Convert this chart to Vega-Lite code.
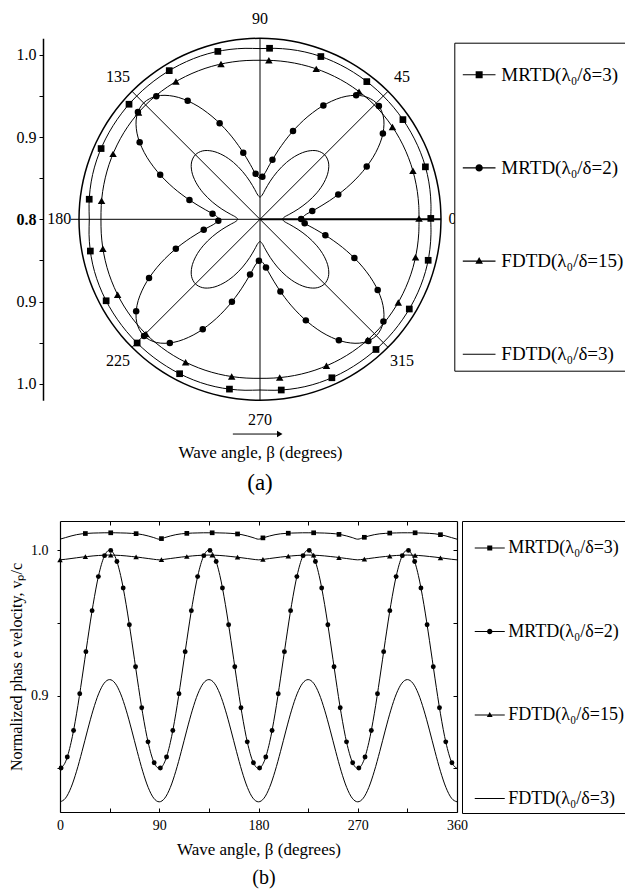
{
  "$schema": "https://vega.github.io/schema/vega-lite/v6.json",
  "width": 625,
  "height": 893,
  "autosize": {"type": "none"},
  "padding": 0,
  "background": "white",
  "config": {
    "view": {"stroke": null},
    "font": "Liberation Serif",
    "axis": {"grid": false, "domainColor": "black", "tickColor": "black", "labelColor": "black", "titleColor": "black", "labelFont": "Liberation Serif", "titleFont": "Liberation Serif", "titleFontWeight": "normal", "labelFlush": false, "labelOverlap": false},
    "legend": {"labelFont": "Liberation Serif", "titleFont": "Liberation Serif"},
    "text": {"font": "Liberation Serif", "color": "black"}
  },
  "datasets": {
    "ln": [
      {"a":0,"c":0.85,"f3":0.827,"sq":1.0075,"tr":0.9933},
      {"a":5,"c":0.8545,"f3":0.8295,"sq":1.0086,"tr":0.9937},
      {"a":10,"c":0.8676,"f3":0.8368,"sq":1.0097,"tr":0.9942},
      {"a":15,"c":0.8875,"f3":0.848,"sq":1.0106,"tr":0.9947},
      {"a":20,"c":0.912,"f3":0.8617,"sq":1.0112,"tr":0.9952},
      {"a":25,"c":0.938,"f3":0.8763,"sq":1.0115,"tr":0.9956},
      {"a":30,"c":0.9625,"f3":0.89,"sq":1.0117,"tr":0.996},
      {"a":35,"c":0.9825,"f3":0.9012,"sq":1.0118,"tr":0.9963},
      {"a":40,"c":0.9955,"f3":0.9085,"sq":1.0119,"tr":0.9965},
      {"a":45,"c":1.0,"f3":0.911,"sq":1.0119,"tr":0.9966},
      {"a":50,"c":0.9955,"f3":0.9085,"sq":1.0119,"tr":0.9965},
      {"a":55,"c":0.9825,"f3":0.9012,"sq":1.0118,"tr":0.9963},
      {"a":60,"c":0.9625,"f3":0.89,"sq":1.0117,"tr":0.996},
      {"a":65,"c":0.938,"f3":0.8763,"sq":1.0115,"tr":0.9956},
      {"a":70,"c":0.912,"f3":0.8617,"sq":1.0112,"tr":0.9952},
      {"a":75,"c":0.8875,"f3":0.848,"sq":1.0106,"tr":0.9947},
      {"a":80,"c":0.8676,"f3":0.8368,"sq":1.0097,"tr":0.9942},
      {"a":85,"c":0.8545,"f3":0.8295,"sq":1.0086,"tr":0.9937},
      {"a":90,"c":0.85,"f3":0.827,"sq":1.0075,"tr":0.9933},
      {"a":95,"c":0.8545,"f3":0.8295,"sq":1.0086,"tr":0.9937},
      {"a":100,"c":0.8676,"f3":0.8368,"sq":1.0097,"tr":0.9942},
      {"a":105,"c":0.8875,"f3":0.848,"sq":1.0106,"tr":0.9947},
      {"a":110,"c":0.912,"f3":0.8617,"sq":1.0112,"tr":0.9952},
      {"a":115,"c":0.938,"f3":0.8763,"sq":1.0115,"tr":0.9956},
      {"a":120,"c":0.9625,"f3":0.89,"sq":1.0117,"tr":0.996},
      {"a":125,"c":0.9825,"f3":0.9012,"sq":1.0118,"tr":0.9963},
      {"a":130,"c":0.9955,"f3":0.9085,"sq":1.0119,"tr":0.9965},
      {"a":135,"c":1.0,"f3":0.911,"sq":1.0119,"tr":0.9966},
      {"a":140,"c":0.9955,"f3":0.9085,"sq":1.0119,"tr":0.9965},
      {"a":145,"c":0.9825,"f3":0.9012,"sq":1.0118,"tr":0.9963},
      {"a":150,"c":0.9625,"f3":0.89,"sq":1.0117,"tr":0.996},
      {"a":155,"c":0.938,"f3":0.8763,"sq":1.0115,"tr":0.9956},
      {"a":160,"c":0.912,"f3":0.8617,"sq":1.0112,"tr":0.9952},
      {"a":165,"c":0.8875,"f3":0.848,"sq":1.0106,"tr":0.9947},
      {"a":170,"c":0.8676,"f3":0.8368,"sq":1.0097,"tr":0.9942},
      {"a":175,"c":0.8545,"f3":0.8295,"sq":1.0086,"tr":0.9937},
      {"a":180,"c":0.85,"f3":0.827,"sq":1.0075,"tr":0.9933},
      {"a":185,"c":0.8545,"f3":0.8295,"sq":1.0086,"tr":0.9937},
      {"a":190,"c":0.8676,"f3":0.8368,"sq":1.0097,"tr":0.9942},
      {"a":195,"c":0.8875,"f3":0.848,"sq":1.0106,"tr":0.9947},
      {"a":200,"c":0.912,"f3":0.8617,"sq":1.0112,"tr":0.9952},
      {"a":205,"c":0.938,"f3":0.8763,"sq":1.0115,"tr":0.9956},
      {"a":210,"c":0.9625,"f3":0.89,"sq":1.0117,"tr":0.996},
      {"a":215,"c":0.9825,"f3":0.9012,"sq":1.0118,"tr":0.9963},
      {"a":220,"c":0.9955,"f3":0.9085,"sq":1.0119,"tr":0.9965},
      {"a":225,"c":1.0,"f3":0.911,"sq":1.0119,"tr":0.9966},
      {"a":230,"c":0.9955,"f3":0.9085,"sq":1.0119,"tr":0.9965},
      {"a":235,"c":0.9825,"f3":0.9012,"sq":1.0118,"tr":0.9963},
      {"a":240,"c":0.9625,"f3":0.89,"sq":1.0117,"tr":0.996},
      {"a":245,"c":0.938,"f3":0.8763,"sq":1.0115,"tr":0.9956},
      {"a":250,"c":0.912,"f3":0.8617,"sq":1.0112,"tr":0.9952},
      {"a":255,"c":0.8875,"f3":0.848,"sq":1.0106,"tr":0.9947},
      {"a":260,"c":0.8676,"f3":0.8368,"sq":1.0097,"tr":0.9942},
      {"a":265,"c":0.8545,"f3":0.8295,"sq":1.0086,"tr":0.9937},
      {"a":270,"c":0.85,"f3":0.827,"sq":1.0075,"tr":0.9933},
      {"a":275,"c":0.8545,"f3":0.8295,"sq":1.0086,"tr":0.9937},
      {"a":280,"c":0.8676,"f3":0.8368,"sq":1.0097,"tr":0.9942},
      {"a":285,"c":0.8875,"f3":0.848,"sq":1.0106,"tr":0.9947},
      {"a":290,"c":0.912,"f3":0.8617,"sq":1.0112,"tr":0.9952},
      {"a":295,"c":0.938,"f3":0.8763,"sq":1.0115,"tr":0.9956},
      {"a":300,"c":0.9625,"f3":0.89,"sq":1.0117,"tr":0.996},
      {"a":305,"c":0.9825,"f3":0.9012,"sq":1.0118,"tr":0.9963},
      {"a":310,"c":0.9955,"f3":0.9085,"sq":1.0119,"tr":0.9965},
      {"a":315,"c":1.0,"f3":0.911,"sq":1.0119,"tr":0.9966},
      {"a":320,"c":0.9955,"f3":0.9085,"sq":1.0119,"tr":0.9965},
      {"a":325,"c":0.9825,"f3":0.9012,"sq":1.0118,"tr":0.9963},
      {"a":330,"c":0.9625,"f3":0.89,"sq":1.0117,"tr":0.996},
      {"a":335,"c":0.938,"f3":0.8763,"sq":1.0115,"tr":0.9956},
      {"a":340,"c":0.912,"f3":0.8617,"sq":1.0112,"tr":0.9952},
      {"a":345,"c":0.8875,"f3":0.848,"sq":1.0106,"tr":0.9947},
      {"a":350,"c":0.8676,"f3":0.8368,"sq":1.0097,"tr":0.9942},
      {"a":355,"c":0.8545,"f3":0.8295,"sq":1.0086,"tr":0.9937},
      {"a":360,"c":0.85,"f3":0.827,"sq":1.0075,"tr":0.9933}
    ],
    "pm": [
      {"s":"sq","a":0.3,"v":1.0076},{"s":"sq","a":17.6,"v":1.0109},{"s":"sq","a":34.9,"v":1.0118},{"s":"sq","a":52.2,"v":1.0118},
      {"s":"sq","a":69.5,"v":1.0112},{"s":"sq","a":86.8,"v":1.0082},{"s":"sq","a":104.1,"v":1.0104},{"s":"sq","a":121.4,"v":1.0117},
      {"s":"sq","a":138.7,"v":1.0119},{"s":"sq","a":156,"v":1.0114},{"s":"sq","a":173.3,"v":1.009},{"s":"sq","a":190.6,"v":1.0098},
      {"s":"sq","a":207.9,"v":1.0116},{"s":"sq","a":225.2,"v":1.0119},{"s":"sq","a":242.5,"v":1.0116},{"s":"sq","a":259.8,"v":1.0097},
      {"s":"sq","a":277.1,"v":1.0091},{"s":"sq","a":294.4,"v":1.0115},{"s":"sq","a":311.7,"v":1.0119},{"s":"sq","a":329,"v":1.0117},
      {"s":"sq","a":346.3,"v":1.0104},
      {"s":"tr","a":0.3,"v":0.9933},{"s":"tr","a":17.6,"v":0.995},{"s":"tr","a":34.9,"v":0.9963},{"s":"tr","a":52.2,"v":0.9964},
      {"s":"tr","a":69.5,"v":0.9952},{"s":"tr","a":86.8,"v":0.9936},{"s":"tr","a":104.1,"v":0.9946},{"s":"tr","a":121.4,"v":0.9961},
      {"s":"tr","a":138.7,"v":0.9965},{"s":"tr","a":156,"v":0.9955},{"s":"tr","a":173.3,"v":0.9939},{"s":"tr","a":190.6,"v":0.9943},
      {"s":"tr","a":207.9,"v":0.9958},{"s":"tr","a":225.2,"v":0.9966},{"s":"tr","a":242.5,"v":0.9958},{"s":"tr","a":259.8,"v":0.9942},
      {"s":"tr","a":277.1,"v":0.9939},{"s":"tr","a":294.4,"v":0.9955},{"s":"tr","a":311.7,"v":0.9965},{"s":"tr","a":329,"v":0.9961},
      {"s":"tr","a":346.3,"v":0.9946},
      {"s":"c","a":0.3,"v":0.85},{"s":"c","a":9,"v":0.8643},{"s":"c","a":17.6,"v":0.8998},{"s":"c","a":26.3,"v":0.9447},
      {"s":"c","a":34.9,"v":0.9821},{"s":"c","a":43.6,"v":0.9996},{"s":"c","a":52.2,"v":0.9907},{"s":"c","a":60.9,"v":0.9584},
      {"s":"c","a":69.5,"v":0.9146},{"s":"c","a":78.2,"v":0.874},{"s":"c","a":86.8,"v":0.8519},{"s":"c","a":95.5,"v":0.8555},
      {"s":"c","a":104.1,"v":0.8835},{"s":"c","a":112.8,"v":0.9266},{"s":"c","a":121.4,"v":0.9687},{"s":"c","a":130.1,"v":0.9957},
      {"s":"c","a":138.7,"v":0.9975},{"s":"c","a":147.4,"v":0.9736},{"s":"c","a":156,"v":0.9328},{"s":"c","a":164.7,"v":0.8889},
      {"s":"c","a":173.3,"v":0.8581},{"s":"c","a":182,"v":0.8507},{"s":"c","a":190.6,"v":0.8696},{"s":"c","a":199.3,"v":0.9084},
      {"s":"c","a":207.9,"v":0.9526},{"s":"c","a":216.6,"v":0.9875},{"s":"c","a":225.2,"v":1.0},{"s":"c","a":233.9,"v":0.986},
      {"s":"c","a":242.5,"v":0.9507},{"s":"c","a":251.2,"v":0.9058},{"s":"c","a":259.8,"v":0.8682},{"s":"c","a":268.5,"v":0.8504},
      {"s":"c","a":277.1,"v":0.859},{"s":"c","a":285.8,"v":0.8912},{"s":"c","a":294.4,"v":0.9349},{"s":"c","a":303.1,"v":0.9756},
      {"s":"c","a":311.7,"v":0.998},{"s":"c","a":320.4,"v":0.9947},{"s":"c","a":329,"v":0.9669},{"s":"c","a":337.7,"v":0.924},
      {"s":"c","a":346.3,"v":0.8818},{"s":"c","a":355,"v":0.8545}
    ],
    "bm": [
      {"s":"sq","a":23,"v":1.0114},{"s":"sq","a":46,"v":1.0119},{"s":"sq","a":69,"v":1.0113},{"s":"sq","a":92,"v":1.0079},
      {"s":"sq","a":115,"v":1.0115},{"s":"sq","a":138,"v":1.0119},{"s":"sq","a":161,"v":1.0111},{"s":"sq","a":184,"v":1.0084},
      {"s":"sq","a":207,"v":1.0116},{"s":"sq","a":230,"v":1.0119},{"s":"sq","a":253,"v":1.0108},{"s":"sq","a":276,"v":1.0088},
      {"s":"sq","a":299,"v":1.0117},{"s":"sq","a":322,"v":1.0119},{"s":"sq","a":345,"v":1.0106},
      {"s":"tr","a":0,"v":0.9933},{"s":"tr","a":23,"v":0.9955},{"s":"tr","a":46,"v":0.9966},{"s":"tr","a":69,"v":0.9953},
      {"s":"tr","a":92,"v":0.9935},{"s":"tr","a":115,"v":0.9956},{"s":"tr","a":138,"v":0.9965},{"s":"tr","a":161,"v":0.9951},
      {"s":"tr","a":184,"v":0.9936},{"s":"tr","a":207,"v":0.9958},{"s":"tr","a":230,"v":0.9965},{"s":"tr","a":253,"v":0.9949},
      {"s":"tr","a":276,"v":0.9938},{"s":"tr","a":299,"v":0.9959},{"s":"tr","a":322,"v":0.9964},{"s":"tr","a":345,"v":0.9947},
      {"s":"c","a":1,"v":0.8502},{"s":"c","a":6.6,"v":0.8578},{"s":"c","a":12.3,"v":0.876},{"s":"c","a":17.9,"v":0.9013},
      {"s":"c","a":23.5,"v":0.9302},{"s":"c","a":29.1,"v":0.9584},{"s":"c","a":34.8,"v":0.9818},{"s":"c","a":40.4,"v":0.9962},
      {"s":"c","a":46,"v":0.9998},{"s":"c","a":51.6,"v":0.9922},{"s":"c","a":57.3,"v":0.974},{"s":"c","a":62.9,"v":0.9487},
      {"s":"c","a":68.5,"v":0.9198},{"s":"c","a":74.1,"v":0.8917},{"s":"c","a":79.8,"v":0.8682},{"s":"c","a":85.4,"v":0.8538},
      {"s":"c","a":91,"v":0.8502},{"s":"c","a":96.6,"v":0.8578},{"s":"c","a":102.3,"v":0.876},{"s":"c","a":107.9,"v":0.9013},
      {"s":"c","a":113.5,"v":0.9302},{"s":"c","a":119.1,"v":0.9584},{"s":"c","a":124.8,"v":0.9818},{"s":"c","a":130.4,"v":0.9962},
      {"s":"c","a":136,"v":0.9998},{"s":"c","a":141.6,"v":0.9922},{"s":"c","a":147.3,"v":0.974},{"s":"c","a":152.9,"v":0.9487},
      {"s":"c","a":158.5,"v":0.9198},{"s":"c","a":164.1,"v":0.8917},{"s":"c","a":169.8,"v":0.8682},{"s":"c","a":175.4,"v":0.8538},
      {"s":"c","a":181,"v":0.8502},{"s":"c","a":186.6,"v":0.8578},{"s":"c","a":192.3,"v":0.876},{"s":"c","a":197.9,"v":0.9013},
      {"s":"c","a":203.5,"v":0.9302},{"s":"c","a":209.1,"v":0.9584},{"s":"c","a":214.8,"v":0.9818},{"s":"c","a":220.4,"v":0.9962},
      {"s":"c","a":226,"v":0.9998},{"s":"c","a":231.6,"v":0.9922},{"s":"c","a":237.3,"v":0.974},{"s":"c","a":242.9,"v":0.9487},
      {"s":"c","a":248.5,"v":0.9198},{"s":"c","a":254.1,"v":0.8917},{"s":"c","a":259.8,"v":0.8682},{"s":"c","a":265.4,"v":0.8538},
      {"s":"c","a":271,"v":0.8502},{"s":"c","a":276.6,"v":0.8578},{"s":"c","a":282.3,"v":0.876},{"s":"c","a":287.9,"v":0.9013},
      {"s":"c","a":293.5,"v":0.9302},{"s":"c","a":299.1,"v":0.9584},{"s":"c","a":304.8,"v":0.9818},{"s":"c","a":310.4,"v":0.9962},
      {"s":"c","a":316,"v":0.9998},{"s":"c","a":321.6,"v":0.9922},{"s":"c","a":327.3,"v":0.974},{"s":"c","a":332.9,"v":0.9487},
      {"s":"c","a":338.5,"v":0.9198},{"s":"c","a":344.1,"v":0.8917},{"s":"c","a":349.8,"v":0.8682},{"s":"c","a":355.4,"v":0.8538}
    ],
    "leg": [
      {"lab":"MRTD(λ₀/δ=3)"},{"lab":"MRTD(λ₀/δ=2)"},{"lab":"FDTD(λ₀/δ=15)"},{"lab":"FDTD(λ₀/δ=3)"}
    ]
  },
  "layer": [
    {
      "data": {"name": "leg"},
      "transform": [{"calculate": "0", "as": "z"}],
      "mark": {"type": "point", "opacity": 0},
      "encoding": {
        "x": {"field": "z", "type": "quantitative", "scale": {"domain": [-0.22, 0.22], "range": [79, 441], "nice": false, "zero": false},
          "axis": {"orient": "bottom", "offset": -452, "domain": false, "ticks": false, "labels": false, "title": "Wave angle, β (degrees)", "titleFontSize": 17, "titlePadding": 3}},
        "y": {"field": "z", "type": "quantitative", "scale": {"domain": [-0.22, 0.22], "range": [400.3, 38.3], "nice": false, "zero": false},
          "axis": {"orient": "left", "offset": -43, "values": [-0.2, -0.15, -0.1, -0.05, 0, 0.05, 0.1, 0.15, 0.2],
            "labelExpr": "datum.value == 0 ? '0.8' : (abs(datum.value) > 0.19 ? '1.0' : (abs(abs(datum.value) - 0.1) < 0.001 ? '0.9' : ''))",
            "labelFontSize": 16, "labelPadding": 3, "domainWidth": 1.5, "title": null, "tickSize": 4,
            "labelFontWeight": {"condition": {"test": "datum.value == 0", "value": "bold"}, "value": "normal"}}}
      }
    },
    {
      "layer": [
        {
          "data": {"values": [{"a":0},{"a":45},{"a":90},{"a":135},{"a":180},{"a":225},{"a":270},{"a":315}]},
          "transform": [
            {"calculate": "datum.a == 180 ? 0.23 : 0.22", "as": "r"},
            {"calculate": "0", "as": "z"},
            {"calculate": "datum.r*cos(datum.a*PI/180)", "as": "ex"},
            {"calculate": "datum.r*sin(datum.a*PI/180)", "as": "ey"},
            {"calculate": "datum.a == 0 ? 2 : 1", "as": "w"}
          ],
          "mark": {"type": "rule", "color": "black"},
          "encoding": {
            "x": {"field": "z", "type": "quantitative", "scale": {"domain": [-0.22, 0.22], "range": [79, 441], "nice": false, "zero": false}, "axis": null},
            "y": {"field": "z", "type": "quantitative", "scale": {"domain": [-0.22, 0.22], "range": [400.3, 38.3], "nice": false, "zero": false}, "axis": null},
            "x2": {"field": "ex"},
            "y2": {"field": "ey"},
            "strokeWidth": {"field": "w", "type": "quantitative", "scale": null}
          }
        },
        {
          "data": {"name": "ln"},
          "transform": [
            {"calculate": "0.22*cos(datum.a*PI/180)", "as": "fx"},
            {"calculate": "0.22*sin(datum.a*PI/180)", "as": "fy"}
          ],
          "mark": {"type": "line", "interpolate": "catmull-rom", "color": "black", "strokeWidth": 1.5},
          "encoding": {
            "x": {"field": "fx", "type": "quantitative", "scale": {"domain": [-0.22, 0.22], "range": [79, 441], "nice": false, "zero": false}, "axis": null},
            "y": {"field": "fy", "type": "quantitative", "scale": {"domain": [-0.22, 0.22], "range": [400.3, 38.3], "nice": false, "zero": false}, "axis": null},
            "order": {"field": "a", "type": "quantitative"}
          }
        },
        {
          "data": {"name": "ln"},
          "transform": [
            {"fold": ["sq", "tr", "c", "f3"], "as": ["s", "v"]},
            {"calculate": "(datum.v-0.8)*cos(datum.a*PI/180)", "as": "px"},
            {"calculate": "(datum.v-0.8)*sin(datum.a*PI/180)", "as": "py"}
          ],
          "mark": {"type": "line", "interpolate": "catmull-rom", "color": "black", "strokeWidth": 1},
          "encoding": {
            "x": {"field": "px", "type": "quantitative", "scale": {"domain": [-0.22, 0.22], "range": [79, 441], "nice": false, "zero": false}, "axis": null},
            "y": {"field": "py", "type": "quantitative", "scale": {"domain": [-0.22, 0.22], "range": [400.3, 38.3], "nice": false, "zero": false}, "axis": null},
            "detail": {"field": "s", "type": "nominal"},
            "order": {"field": "a", "type": "quantitative"}
          }
        },
        {
          "data": {"name": "pm"},
          "transform": [
            {"filter": "datum.s == 'sq'"},
            {"calculate": "(datum.v-0.8)*cos(datum.a*PI/180)", "as": "px"},
            {"calculate": "(datum.v-0.8)*sin(datum.a*PI/180)", "as": "py"}
          ],
          "mark": {"type": "point", "shape": "square", "filled": true, "color": "black", "size": 45, "opacity": 1},
          "encoding": {
            "x": {"field": "px", "type": "quantitative", "scale": {"domain": [-0.22, 0.22], "range": [79, 441], "nice": false, "zero": false}, "axis": null},
            "y": {"field": "py", "type": "quantitative", "scale": {"domain": [-0.22, 0.22], "range": [400.3, 38.3], "nice": false, "zero": false}, "axis": null}
          }
        },
        {
          "data": {"name": "pm"},
          "transform": [
            {"filter": "datum.s == 'c'"},
            {"calculate": "(datum.v-0.8)*cos(datum.a*PI/180)", "as": "px"},
            {"calculate": "(datum.v-0.8)*sin(datum.a*PI/180)", "as": "py"}
          ],
          "mark": {"type": "point", "shape": "circle", "filled": true, "color": "black", "size": 42, "opacity": 1},
          "encoding": {
            "x": {"field": "px", "type": "quantitative", "scale": {"domain": [-0.22, 0.22], "range": [79, 441], "nice": false, "zero": false}, "axis": null},
            "y": {"field": "py", "type": "quantitative", "scale": {"domain": [-0.22, 0.22], "range": [400.3, 38.3], "nice": false, "zero": false}, "axis": null}
          }
        },
        {
          "data": {"name": "pm"},
          "transform": [
            {"filter": "datum.s == 'tr'"},
            {"calculate": "(datum.v-0.8)*cos(datum.a*PI/180)", "as": "px"},
            {"calculate": "(datum.v-0.8)*sin(datum.a*PI/180)", "as": "py"}
          ],
          "mark": {"type": "point", "shape": "triangle-up", "filled": true, "color": "black", "size": 56, "opacity": 1},
          "encoding": {
            "x": {"field": "px", "type": "quantitative", "scale": {"domain": [-0.22, 0.22], "range": [79, 441], "nice": false, "zero": false}, "axis": null},
            "y": {"field": "py", "type": "quantitative", "scale": {"domain": [-0.22, 0.22], "range": [400.3, 38.3], "nice": false, "zero": false}, "axis": null}
          }
        },
        {
          "data": {"values": [{"t":"0","a":0},{"t":"45","a":45},{"t":"90","a":90},{"t":"135","a":135},{"t":"180","a":180},{"t":"225","a":225},{"t":"270","a":270},{"t":"315","a":315}]},
          "transform": [
            {"calculate": "datum.a == 0 ? 0.234 : 0.244", "as": "r"},
            {"calculate": "datum.r*cos(datum.a*PI/180)", "as": "lx"},
            {"calculate": "datum.r*sin(datum.a*PI/180)", "as": "ly"}
          ],
          "mark": {"type": "text", "fontSize": 16, "align": "center", "baseline": "middle", "color": "black"},
          "encoding": {
            "x": {"field": "lx", "type": "quantitative", "scale": {"domain": [-0.22, 0.22], "range": [79, 441], "nice": false, "zero": false}, "axis": null},
            "y": {"field": "ly", "type": "quantitative", "scale": {"domain": [-0.22, 0.22], "range": [400.3, 38.3], "nice": false, "zero": false}, "axis": null},
            "text": {"field": "t", "type": "nominal"}
          }
        },
        {
          "data": {"values": [{"t": "(a)"}]},
          "transform": [
            {"calculate": "0", "as": "tx"},
            {"calculate": "-0.321", "as": "ty"},
            {"calculate": "-0.033", "as": "ax0"},
            {"calculate": "0.024", "as": "ax1"},
            {"calculate": "-0.261", "as": "ay"}
          ],
          "layer": [
            {
              "mark": {"type": "text", "fontSize": 23, "align": "center", "baseline": "middle", "color": "black"},
              "encoding": {
                "x": {"field": "tx", "type": "quantitative", "scale": {"domain": [-0.22, 0.22], "range": [79, 441], "nice": false, "zero": false}, "axis": null},
                "y": {"field": "ty", "type": "quantitative", "scale": {"domain": [-0.22, 0.22], "range": [400.3, 38.3], "nice": false, "zero": false}, "axis": null},
                "text": {"field": "t", "type": "nominal"}
              }
            },
            {
              "mark": {"type": "rule", "color": "black", "strokeWidth": 1},
              "encoding": {
                "x": {"field": "ax0", "type": "quantitative", "scale": {"domain": [-0.22, 0.22], "range": [79, 441], "nice": false, "zero": false}, "axis": null},
                "x2": {"field": "ax1"},
                "y": {"field": "ay", "type": "quantitative", "scale": {"domain": [-0.22, 0.22], "range": [400.3, 38.3], "nice": false, "zero": false}, "axis": null}
              }
            },
            {
              "mark": {"type": "point", "shape": "triangle-right", "filled": true, "color": "black", "size": 40, "opacity": 1},
              "encoding": {
                "x": {"field": "ax1", "type": "quantitative", "scale": {"domain": [-0.22, 0.22], "range": [79, 441], "nice": false, "zero": false}, "axis": null},
                "y": {"field": "ay", "type": "quantitative", "scale": {"domain": [-0.22, 0.22], "range": [400.3, 38.3], "nice": false, "zero": false}, "axis": null}
              }
            }
          ]
        },
        {
          "data": {"name": "leg"},
          "mark": {"type": "point", "filled": true, "color": "black", "opacity": 0},
          "encoding": {
            "shape": {"field": "lab", "type": "nominal",
              "scale": {"domain": ["MRTD(λ₀/δ=3)", "MRTD(λ₀/δ=2)", "FDTD(λ₀/δ=15)", "FDTD(λ₀/δ=3)"],
                "range": ["M-2.725,-0.09H2.725V0.09H-2.725ZM-0.583,-0.583H0.583V0.583H-0.583Z",
                          "M-2.725,-0.09H2.725V0.09H-2.725ZM-0.61,0A0.61,0.61,0,1,1,0.61,0A0.61,0.61,0,1,1,-0.61,0Z",
                          "M-2.725,-0.09H2.725V0.09H-2.725ZM0,-0.7L0.633,0.45H-0.633Z",
                          "M-2.725,-0.09H2.725V0.09H-2.725Z"]},
              "legend": {"orient": "none", "legendX": 454.3, "legendY": 42.7, "title": " ", "titleFontSize": 10, "titlePadding": 6.5,
                "padding": 6, "rowPadding": 73.2, "symbolSize": 144, "symbolOffset": 9.35, "symbolStrokeWidth": 0,
                "symbolFillColor": "black", "symbolOpacity": 1,
                "labelFont": "Liberation Serif", "labelFontSize": 19, "labelOffset": 12.7, "labelColor": "black", "labelLimit": 400,
                "strokeColor": "black", "fillColor": "white"}}
          }
        }
      ]
    },
    {
      "data": {"name": "ln"},
      "mark": {"type": "line", "opacity": 0},
      "encoding": {
        "x": {"field": "a", "type": "quantitative", "scale": {"domain": [0, 360], "range": [60, 457], "nice": false, "zero": false},
          "axis": {"orient": "bottom", "offset": -81, "values": [0, 45, 90, 135, 180, 225, 270, 315, 360],
            "labelExpr": "datum.value % 90 == 0 ? datum.label : ''", "tickSize": -4, "labelPadding": 10, "labelFontSize": 14,
            "domainWidth": 1.2, "title": "Wave angle,   β (degrees)", "titleFontSize": 17, "titlePadding": 9}},
        "y": {"field": "c", "type": "quantitative", "scale": {"domain": [0.82, 1.02], "range": [812, 521], "nice": false, "zero": false},
          "axis": {"orient": "left", "offset": -60, "values": [0.85, 0.9, 0.95, 1.0],
            "labelExpr": "(datum.value == 0.9 || datum.value == 1) ? format(datum.value, '.1f') : ''",
            "tickSize": 3, "labelPadding": 9, "labelFontSize": 14, "domainWidth": 1.2,
            "title": "Normalized  phas e velocity,   vₚ/c", "titleFontSize": 16, "titlePadding": 6}}
      }
    },
    {
      "layer": [
        {
          "data": {"name": "ln"},
          "transform": [{"fold": ["sq", "tr", "c", "f3"], "as": ["s", "v"]}],
          "mark": {"type": "line", "interpolate": "monotone", "color": "black", "strokeWidth": 1},
          "encoding": {
            "x": {"field": "a", "type": "quantitative", "scale": {"domain": [0, 360], "range": [60, 457], "nice": false, "zero": false}, "axis": null},
            "y": {"field": "v", "type": "quantitative", "scale": {"domain": [0.82, 1.02], "range": [812, 521], "nice": false, "zero": false}, "axis": null},
            "detail": {"field": "s", "type": "nominal"},
            "order": {"field": "a", "type": "quantitative"}
          }
        },
        {
          "data": {"name": "bm"},
          "transform": [{"filter": "datum.s == 'sq'"}],
          "mark": {"type": "point", "shape": "square", "filled": true, "color": "black", "size": 22, "opacity": 1},
          "encoding": {
            "x": {"field": "a", "type": "quantitative", "scale": {"domain": [0, 360], "range": [60, 457], "nice": false, "zero": false}, "axis": null},
            "y": {"field": "v", "type": "quantitative", "scale": {"domain": [0.82, 1.02], "range": [812, 521], "nice": false, "zero": false}, "axis": null}
          }
        },
        {
          "data": {"name": "bm"},
          "transform": [{"filter": "datum.s == 'c'"}],
          "mark": {"type": "point", "shape": "circle", "filled": true, "color": "black", "size": 24, "opacity": 1},
          "encoding": {
            "x": {"field": "a", "type": "quantitative", "scale": {"domain": [0, 360], "range": [60, 457], "nice": false, "zero": false}, "axis": null},
            "y": {"field": "v", "type": "quantitative", "scale": {"domain": [0.82, 1.02], "range": [812, 521], "nice": false, "zero": false}, "axis": null}
          }
        },
        {
          "data": {"name": "bm"},
          "transform": [{"filter": "datum.s == 'tr'"}],
          "mark": {"type": "point", "shape": "triangle-up", "filled": true, "color": "black", "size": 30, "opacity": 1},
          "encoding": {
            "x": {"field": "a", "type": "quantitative", "scale": {"domain": [0, 360], "range": [60, 457], "nice": false, "zero": false}, "axis": null},
            "y": {"field": "v", "type": "quantitative", "scale": {"domain": [0.82, 1.02], "range": [812, 521], "nice": false, "zero": false}, "axis": null}
          }
        },
        {
          "data": {"values": [{"t": "(b)"}]},
          "transform": [{"calculate": "185", "as": "tx"}, {"calculate": "0.7745", "as": "ty"}],
          "mark": {"type": "text", "fontSize": 20, "align": "center", "baseline": "middle", "color": "black"},
          "encoding": {
            "x": {"field": "tx", "type": "quantitative", "scale": {"domain": [0, 360], "range": [60, 457], "nice": false, "zero": false}, "axis": null},
            "y": {"field": "ty", "type": "quantitative", "scale": {"domain": [0.82, 1.02], "range": [812, 521], "nice": false, "zero": false}, "axis": null},
            "text": {"field": "t", "type": "nominal"}
          }
        },
        {
          "data": {"name": "leg"},
          "mark": {"type": "point", "filled": true, "color": "black", "opacity": 0},
          "encoding": {
            "shape": {"field": "lab", "type": "nominal",
              "scale": {"domain": ["MRTD(λ₀/δ=3)", "MRTD(λ₀/δ=2)", "FDTD(λ₀/δ=15)", "FDTD(λ₀/δ=3)"],
                "range": ["M-3,-0.1H3V0.1H-3ZM-0.5,-0.5H0.5V0.5H-0.5Z",
                          "M-3,-0.1H3V0.1H-3ZM-0.54,0A0.54,0.54,0,1,1,0.54,0A0.54,0.54,0,1,1,-0.54,0Z",
                          "M-3,-0.1H3V0.1H-3ZM0,-0.6L0.58,0.4H-0.58Z",
                          "M-3,-0.1H3V0.1H-3Z"]},
              "legend": {"orient": "none", "legendX": 462, "legendY": 521, "title": " ", "titleFontSize": 8, "titlePadding": 4.5,
                "padding": 5.5, "rowPadding": 65.5, "symbolSize": 100, "symbolOffset": 13.25, "symbolStrokeWidth": 0,
                "symbolFillColor": "black", "symbolOpacity": 1,
                "labelFont": "Liberation Serif", "labelFontSize": 18, "labelOffset": 9.5, "labelColor": "black", "labelLimit": 400,
                "strokeColor": "black", "fillColor": "white"}}
          }
        }
      ]
    },
    {
      "data": {"name": "ln"},
      "mark": {"type": "line", "opacity": 0},
      "encoding": {
        "x": {"field": "a", "type": "quantitative", "scale": {"domain": [0, 360], "range": [60, 457], "nice": false, "zero": false},
          "axis": {"orient": "top", "offset": -521, "values": [45, 90, 135, 180, 225, 270, 315], "tickSize": -4, "labels": false, "domainWidth": 1.2, "title": null}},
        "y": {"field": "c", "type": "quantitative", "scale": {"domain": [0.82, 1.02], "range": [812, 521], "nice": false, "zero": false},
          "axis": {"orient": "right", "offset": -168, "values": [0.85, 0.9, 0.95, 1.0], "tickSize": -4, "labels": false, "domainWidth": 1.2, "title": null}}
      }
    }
  ],
  "resolve": {
    "scale": {"x": "independent", "y": "independent", "shape": "independent"},
    "axis": {"x": "independent", "y": "independent"},
    "legend": {"shape": "independent"}
  }
}
